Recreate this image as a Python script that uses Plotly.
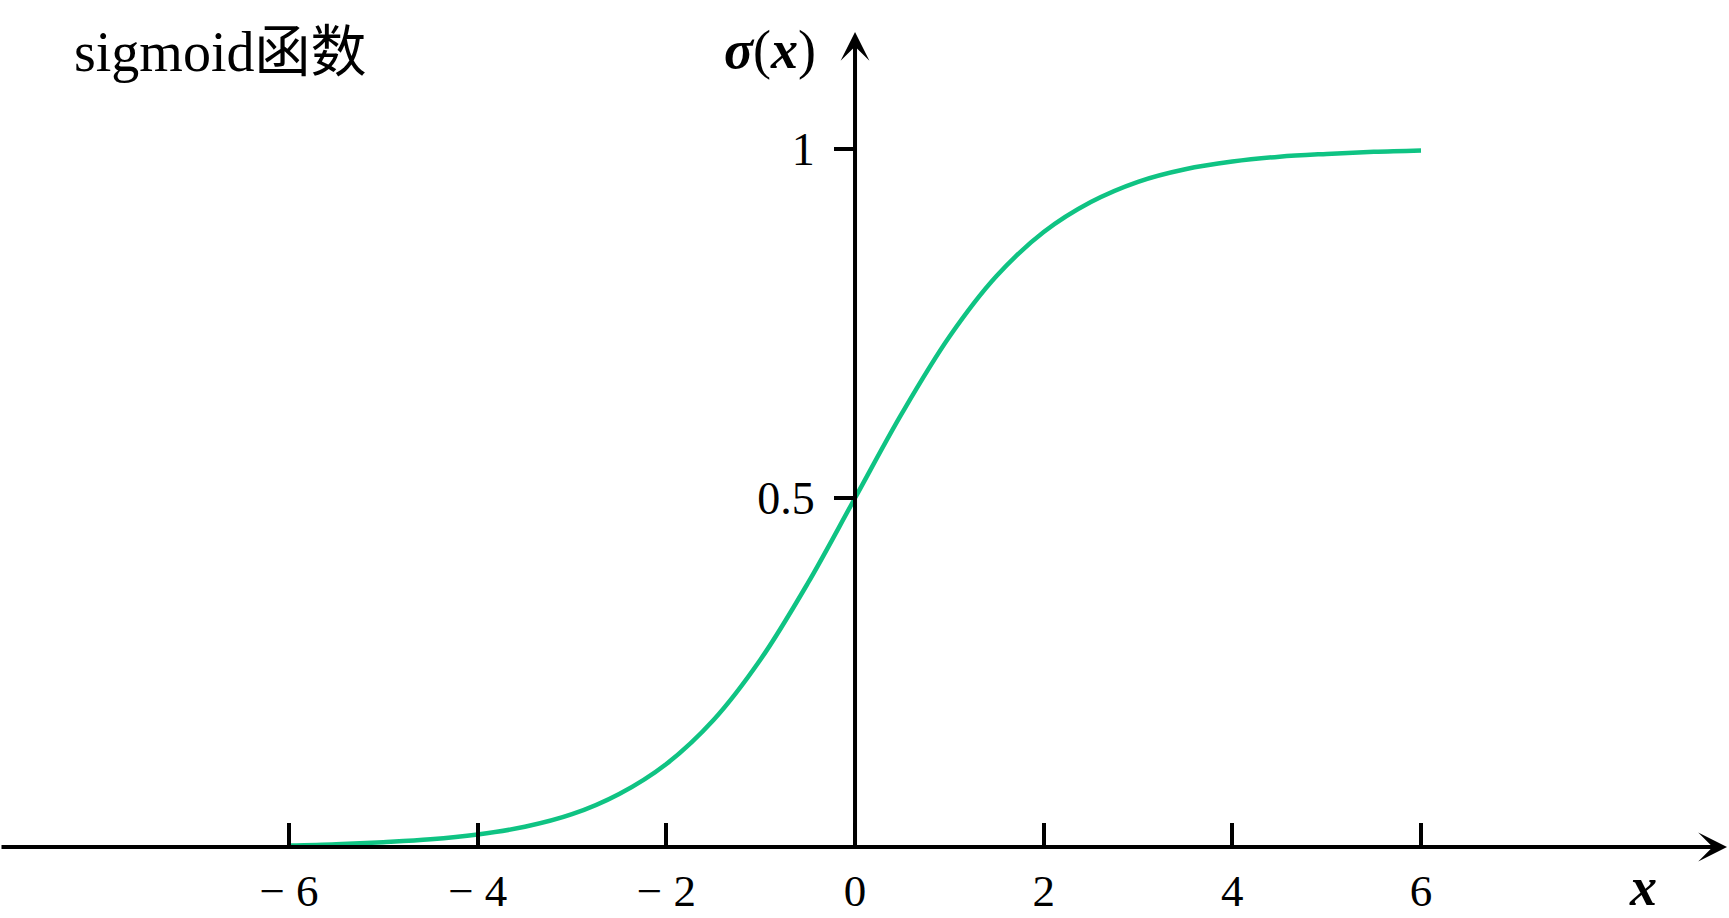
import plotly.graph_objects as go

# curva (paso 0.5)
x_vals = [-6, -5.5, -5, -4.5, -4, -3.5, -3, -2.5, -2, -1.5, -1, -0.5, 0,
          0.5, 1, 1.5, 2, 2.5, 3, 3.5, 4, 4.5, 5, 5.5, 6]
y_vals = [0.002, 0.004, 0.007, 0.011, 0.018, 0.029, 0.047, 0.076, 0.119,
          0.182, 0.269, 0.378, 0.5, 0.622, 0.731, 0.818, 0.881, 0.924,
          0.953, 0.971, 0.982, 0.989, 0.993, 0.996, 0.998]

x_ticks = [-6, -4, -2, 0, 2, 4, 6]
x_ticktext = ["− 6", "− 4", "− 2", "0", "2", "4", "6"]
y_ticks = [0.5, 1]
y_ticktext = ["0.5", "1"]

W, H = 1729, 918
X_RANGE = [-9.064, 9.265]
Y_RANGE = [-0.1017, 1.2135]
SERIF = "Liberation Serif, Times New Roman, Noto Sans CJK SC, serif"
GREEN = "#0fc383"

fig = go.Figure()
fig.add_trace(go.Scatter(
    x=x_vals, y=y_vals, mode="lines",
    line=dict(color=GREEN, width=4.5, shape="spline"),
    hoverinfo="skip", showlegend=False,
))

# ejes con flecha
fig.add_annotation(x=9.244, y=0, ax=X_RANGE[0], ay=0, xref="x", yref="y",
                   axref="x", ayref="y", text="", showarrow=True,
                   arrowhead=3, arrowwidth=4, arrowsize=1.2,
                   arrowcolor="black", standoff=0)
fig.add_annotation(x=0, y=1.1676, ax=0, ay=-0.003, xref="x", yref="y",
                   axref="x", ayref="y", text="", showarrow=True,
                   arrowhead=3, arrowwidth=4, arrowsize=1.2,
                   arrowcolor="black", standoff=0)

# textos
fig.add_annotation(x=72 / W, y=1 - 52 / H, xref="paper", yref="paper",
                   text="sigmoid函数", showarrow=False,
                   xanchor="left", yanchor="middle",
                   font=dict(family=SERIF, size=56, color="black"))
fig.add_annotation(x=818 / W, y=1 - 50 / H, xref="paper", yref="paper",
                   text="<b><i>σ</i></b>(<b><i>x</i></b>)", showarrow=False,
                   xanchor="right", yanchor="middle",
                   font=dict(family=SERIF, size=54, color="black"))
fig.add_annotation(x=1643 / W, y=0, xref="paper", yref="paper",
                   text="<b><i>x</i></b>", showarrow=False,
                   xanchor="center", yanchor="bottom", borderpad=0,
                   font=dict(family=SERIF, size=54, color="black"))

fig.update_layout(
    width=W, height=H,
    margin=dict(l=0, r=0, t=0, b=0),
    plot_bgcolor="white", paper_bgcolor="white",
    xaxis=dict(
        range=X_RANGE, anchor="free", position=71 / H,
        tickmode="array", tickvals=x_ticks, ticktext=x_ticktext,
        ticks="inside", ticklen=24, tickwidth=4, tickcolor="black",
        ticklabelstandoff=13,
        tickfont=dict(family=SERIF, size=45, color="black"),
        showgrid=False, zeroline=False, showline=False, automargin=False,
    ),
    yaxis=dict(
        range=Y_RANGE, anchor="free", position=855 / W,
        tickmode="array", tickvals=y_ticks, ticktext=y_ticktext,
        ticks="outside", ticklen=21, tickwidth=4, tickcolor="black",
        ticklabelstandoff=10,
        tickfont=dict(family=SERIF, size=46, color="black"),
        showgrid=False, zeroline=False, showline=False, automargin=False,
    ),
)

fig.write_html("out.html", config={"displayModeBar": False},
               post_script="document.body.style.margin='0';")
